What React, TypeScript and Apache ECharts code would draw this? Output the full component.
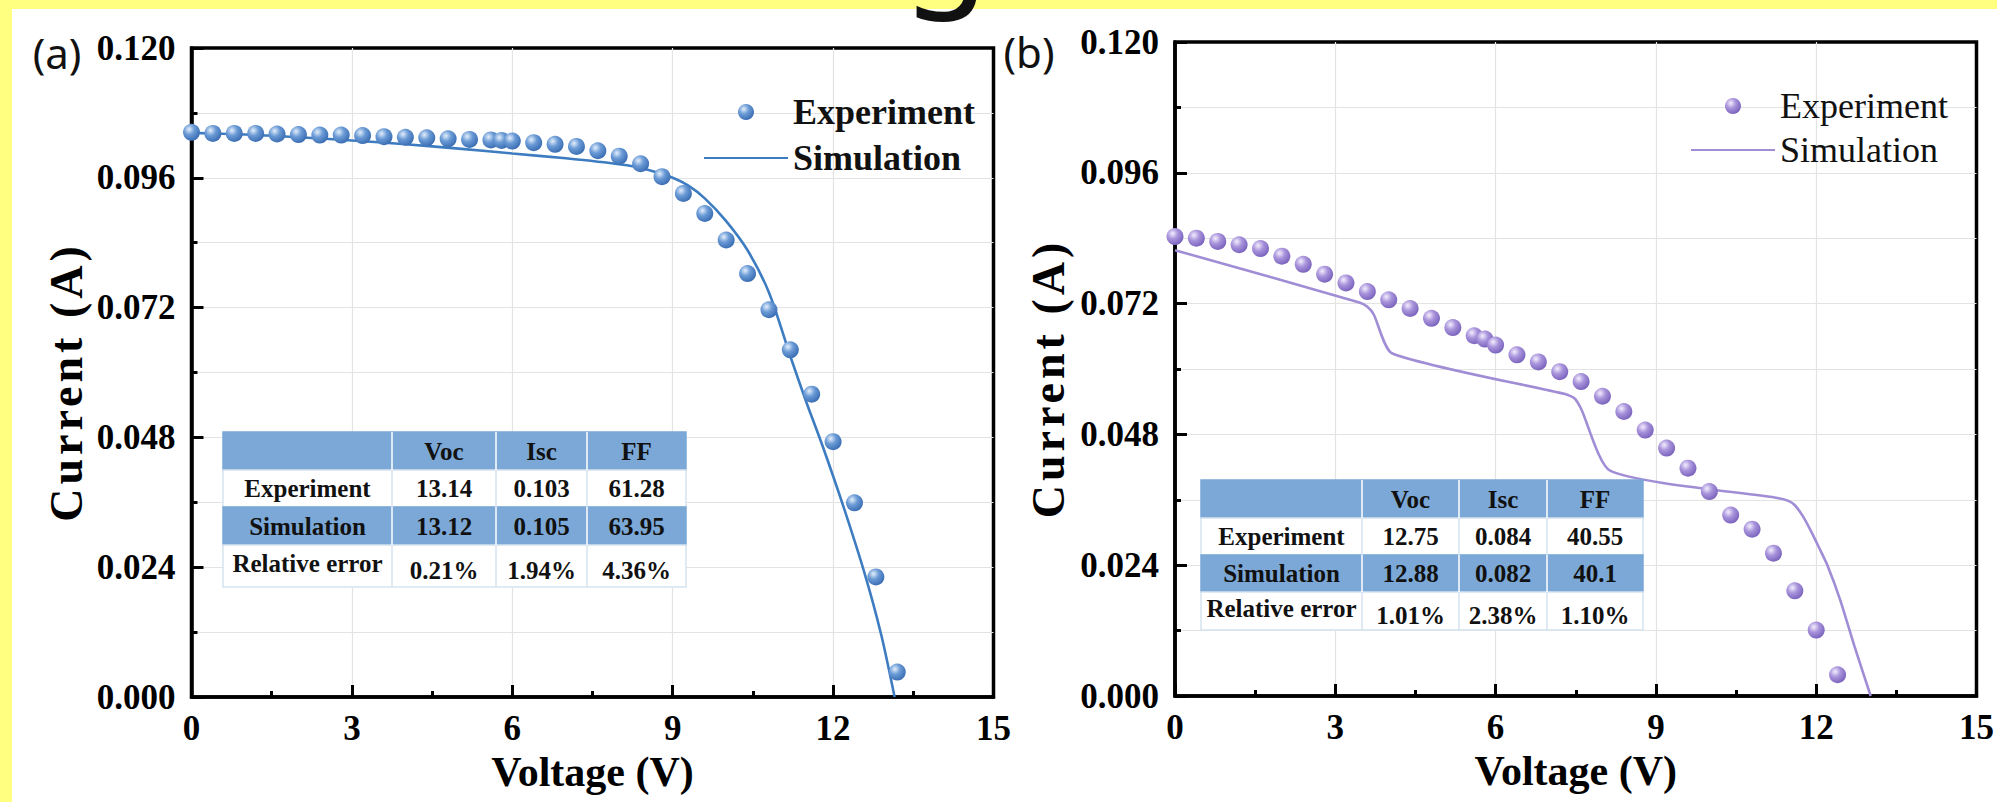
import React, { useEffect, useRef } from 'react';
import * as echarts from 'echarts';

// ---------- data ----------
const expVoltageA = [0, 0.4, 0.8, 1.2, 1.6, 2.0, 2.4, 2.8, 3.2, 3.6, 4.0, 4.4, 4.8, 5.2, 5.6, 5.8, 6.0, 6.4, 6.8, 7.2, 7.6, 8.0, 8.4, 8.8, 9.2, 9.6, 10.0, 10.4, 10.8, 11.2, 11.6, 12.0, 12.4, 12.8, 13.2];
const expCurrentA = [0.1044, 0.1042, 0.1042, 0.1042, 0.1041, 0.1040, 0.1039, 0.1039, 0.1038, 0.1036, 0.1035, 0.1034, 0.1032, 0.1031, 0.1030, 0.1029, 0.1028, 0.1025, 0.1022, 0.1018, 0.1010, 0.1000, 0.0986, 0.0962, 0.0931, 0.0894, 0.0845, 0.0783, 0.0716, 0.0642, 0.0560, 0.0472, 0.0359, 0.0222, 0.0046];
const simVoltageA = [0, 1, 2, 3, 4, 5, 6, 7, 8, 8.5, 9, 9.3, 9.6, 10, 10.4, 10.8, 11.2, 11.5, 11.8, 12.2, 12.6, 12.9, 13.15];
const simCurrentA = [0.1043, 0.1040, 0.1035, 0.1029, 0.1022, 0.1014, 0.1005, 0.0996, 0.0985, 0.0976, 0.0960, 0.0945, 0.0922, 0.0880, 0.0826, 0.0748, 0.0630, 0.0545, 0.0465, 0.0350, 0.0225, 0.0115, 0.0];

const expVoltageB = [0, 0.4, 0.8, 1.2, 1.6, 2.0, 2.4, 2.8, 3.2, 3.6, 4.0, 4.4, 4.8, 5.2, 5.6, 5.8, 6.0, 6.4, 6.8, 7.2, 7.6, 8.0, 8.4, 8.8, 9.2, 9.6, 10.0, 10.4, 10.8, 11.2, 11.6, 12.0, 12.4];
const expCurrentB = [0.0843, 0.0840, 0.0834, 0.0828, 0.0821, 0.0807, 0.0792, 0.0774, 0.0758, 0.0742, 0.0727, 0.0711, 0.0693, 0.0676, 0.0661, 0.0655, 0.0644, 0.0626, 0.0613, 0.0595, 0.0577, 0.0550, 0.0522, 0.0488, 0.0455, 0.0418, 0.0375, 0.0332, 0.0306, 0.0262, 0.0193, 0.0121, 0.0039];
const simVoltageB = [0, 3.45, 3.6, 3.72, 4.06, 7.3, 7.48, 7.6, 8.15, 11.3, 11.48, 11.6, 11.75, 11.9, 12.05, 12.2, 12.45, 12.72, 13.02];
const simCurrentB = [0.0818, 0.0722, 0.0714, 0.0700, 0.0629, 0.0554, 0.0546, 0.0527, 0.0413, 0.0363, 0.0358, 0.0350, 0.0330, 0.0303, 0.0273, 0.0242, 0.0176, 0.0090, 0.0];

const xTicks = { min: 0, max: 15, interval: 3 };
const yTicks = { min: 0, max: 0.12, interval: 0.024 };

const tableHeader = ['', 'Voc', 'Isc', 'FF'];
const tableRowLabels = ['Experiment', 'Simulation', 'Relative error'];
const tableAValues = [['13.14', '0.103', '61.28'], ['13.12', '0.105', '63.95'], ['0.21%', '1.94%', '4.36%']];
const tableBValues = [['12.75', '0.084', '40.55'], ['12.88', '0.082', '40.1'], ['1.01%', '2.38%', '1.10%']];

const legendNamesA = ['Experiment', 'Simulation'];
const legendNamesB = ['Experiment (b)', 'Simulation (b)'];

const Y_TITLE = 'Current (A)';

// ---------- styling ----------
const SERIF = '"Liberation Serif", "Times New Roman", serif';
const SANS = '"Noto Sans", "Liberation Sans", sans-serif';

function pairs(xs: number[], ys: number[]) {
  return xs.map((x, i) => [x, ys[i]]);
}

function ball(light: string, mid: string, dark: string) {
  return new echarts.graphic.RadialGradient(0.36, 0.32, 0.7, [
    { offset: 0, color: light },
    { offset: 0.45, color: mid },
    { offset: 1, color: dark },
  ]);
}

function xAxisCfg(gridIndex: number) {
  return {
    type: 'value',
    gridIndex,
    min: xTicks.min,
    max: xTicks.max,
    interval: xTicks.interval,
    name: 'Voltage (V)',
    nameLocation: 'middle',
    nameGap: 53,
    nameTextStyle: { fontFamily: SERIF, fontWeight: 'bold', fontSize: 42, color: '#000' },
    axisLine: { show: true, onZero: false, lineStyle: { color: '#000', width: 3.5 } },
    axisTick: { show: true, inside: true, length: 12, lineStyle: { color: '#000', width: 3 } },
    minorTick: { show: true, splitNumber: 2, length: 6, lineStyle: { color: '#000', width: 3 } },
    splitLine: { show: true, showMinLine: false, showMaxLine: false, lineStyle: { color: '#e3e3e3', width: 1.2 } },
    minorSplitLine: { show: false },
    axisLabel: { color: '#000', fontFamily: SERIF, fontWeight: 'bold', fontSize: 35, margin: 14 },
  };
}

function yAxisCfg(gridIndex: number, gap: number) {
  return {
    type: 'value',
    gridIndex,
    min: yTicks.min,
    max: yTicks.max,
    interval: yTicks.interval,
    name: Y_TITLE,
    nameLocation: 'middle',
    nameRotate: 90,
    nameGap: gap,
    nameTextStyle: { fontFamily: SERIF, fontWeight: 'bold', fontSize: 46, color: '#000', padding: [0, 19, 0, 0] },
    axisLine: { show: true, onZero: false, lineStyle: { color: '#000', width: 3.5 } },
    axisTick: { show: true, inside: true, length: 12, lineStyle: { color: '#000', width: 3 } },
    minorTick: { show: true, splitNumber: 2, length: 6, lineStyle: { color: '#000', width: 3 } },
    splitLine: { show: true, showMinLine: false, showMaxLine: false, lineStyle: { color: '#e3e3e3', width: 1.2 } },
    minorSplitLine: { show: true, lineStyle: { color: '#e3e3e3', width: 1.2 } },
    axisLabel: {
      color: '#000', fontFamily: SERIF, fontWeight: 'bold', fontSize: 35, margin: 16,
      formatter: (v: number) => v.toFixed(3),
    },
  };
}

function buildTable(xs: number[], ys: number[], values: string[][]) {
  const els: any[] = [];
  const blue = '#7ba8d6';
  const light = '#d5e3f0';
  const fills = [blue, '#ffffff', blue, '#ffffff'];
  for (let r = 0; r < 4; r++) {
    const isBlue = r % 2 === 0;
    els.push({
      type: 'rect', z: 10,
      shape: { x: xs[0], y: ys[r], width: xs[4] - xs[0], height: ys[r + 1] - ys[r] },
      style: { fill: fills[r], stroke: isBlue ? blue : light, lineWidth: 1.5 },
    });
    for (let c = 1; c < 4; c++) {
      els.push({
        type: 'line', z: 11,
        shape: { x1: xs[c], y1: ys[r], x2: xs[c], y2: ys[r + 1] },
        style: { stroke: isBlue ? '#ffffff' : light, lineWidth: 1.5 },
      });
    }
  }
  const rows = [tableHeader, ...tableRowLabels.map((l, i) => [l, ...values[i]])];
  rows.forEach((row, r) => {
    row.forEach((t, c) => {
      if (!t) return;
      let dy = 0;
      if (r === 3) dy = c === 0 ? -3 : 4;
      els.push({
        type: 'text', z: 12,
        x: (xs[c] + xs[c + 1]) / 2,
        y: (ys[r] + ys[r + 1]) / 2 + dy,
        style: {
          text: t, fill: '#111', fontFamily: SERIF, fontWeight: 'bold', fontSize: 25,
          align: 'center', verticalAlign: 'middle',
        },
      });
    });
  });
  return els;
}

export default function App() {
  const ref = useRef<HTMLDivElement>(null);

  useEffect(() => {
    if (!ref.current) return;
    const el = ref.current;
    const chart = echarts.init(el, undefined, { renderer: 'svg' });

    const blueBall = ball('#e3eefb', '#6b9bd6', '#3a6db3');
    const purpleBall = ball('#f3eefd', '#a994dc', '#7a63bd');

    const option: any = {
      animation: false,
      backgroundColor: 'transparent',
      grid: [
        { left: 191.5, top: 48, width: 802, height: 649, show: true, borderColor: '#000', borderWidth: 3.5, backgroundColor: 'transparent' },
        { left: 1175, top: 42, width: 809.5, height: 654, show: true, borderColor: '#000', borderWidth: 3.5, backgroundColor: 'transparent' },
      ],
      xAxis: [xAxisCfg(0), xAxisCfg(1)],
      yAxis: [yAxisCfg(0, 102), yAxisCfg(1, 104)],
      legend: [
        {
          data: [{ name: legendNamesA[0] }, { name: legendNamesA[1], itemStyle: { opacity: 0 } }],
          orient: 'vertical', left: 698, top: 89,
          itemWidth: 84, itemHeight: 16, itemGap: 10,
          textStyle: { fontFamily: SERIF, fontWeight: 'bold', fontSize: 36, color: '#111' },
        },
        {
          data: [{ name: legendNamesB[0] }, { name: legendNamesB[1], itemStyle: { opacity: 0 } }],
          orient: 'vertical', left: 1685, top: 83,
          itemWidth: 84, itemHeight: 16, itemGap: 8,
          formatter: (n: string) => n.replace(' (b)', ''),
          textStyle: { fontFamily: SERIF, fontWeight: 'normal', fontSize: 36, color: '#111' },
        },
      ],
      series: [
        {
          name: 'Simulation', type: 'line', xAxisIndex: 0, yAxisIndex: 0,
          data: pairs(simVoltageA, simCurrentA), symbol: 'none', smooth: 0.3,
          lineStyle: { color: '#3d7cc0', width: 2.6 }, itemStyle: { color: '#3d7cc0' }, z: 3,
        },
        {
          name: 'Experiment', type: 'scatter', xAxisIndex: 0, yAxisIndex: 0,
          data: pairs(expVoltageA, expCurrentA), symbolSize: 17,
          itemStyle: { color: blueBall, opacity: 1 }, z: 4,
        },
        {
          name: 'Simulation (b)', type: 'line', xAxisIndex: 1, yAxisIndex: 1,
          data: pairs(simVoltageB, simCurrentB), symbol: 'none', smooth: 0.2,
          lineStyle: { color: '#a08dd5', width: 2.6 }, itemStyle: { color: '#a08dd5' }, z: 3,
        },
        {
          name: 'Experiment (b)', type: 'scatter', xAxisIndex: 1, yAxisIndex: 1,
          data: pairs(expVoltageB, expCurrentB), symbolSize: 17,
          itemStyle: { color: purpleBall, opacity: 1 }, z: 4,
        },
      ],
      graphic: {
        elements: [
          {
            type: 'text', x: 57, y: 52, z: 20,
            style: { text: '(a)', fill: '#111', fontFamily: SANS, fontSize: 42, align: 'center', verticalAlign: 'middle' },
          },
          {
            type: 'text', x: 1029, y: 51, z: 20,
            style: { text: '(b)', fill: '#111', fontFamily: SANS, fontSize: 42, align: 'center', verticalAlign: 'middle' },
          },
          {
            type: 'text', x: 946, y: -67, z: 20,
            style: { text: 'g', fill: '#111', fontFamily: SANS, fontSize: 140, align: 'center', verticalAlign: 'middle' },
          },
          ...buildTable([223, 392, 496, 587, 686], [432, 470, 507, 545, 587], tableAValues),
          ...buildTable([1201, 1362, 1459, 1547, 1643], [480, 518, 555, 592, 630], tableBValues),
        ],
      },
    };

    // the original's y-axis title is letter-spaced
    const spaceTitles = () => {
      el.querySelectorAll('text').forEach((t) => {
        if (t.textContent === Y_TITLE) t.setAttribute('letter-spacing', '4');
      });
    };
    chart.on('finished', spaceTitles);
    chart.setOption(option);
    spaceTitles();
    return () => chart.dispose();
  }, []);

  return (
    <div style={{ position: 'fixed', left: 0, top: 0, width: 1997, height: 802, background: '#ffff80', overflow: 'hidden' }}>
      <div style={{ position: 'absolute', left: 12, top: 9, width: 1985, height: 793, background: '#ffffff' }} />
      <div ref={ref} style={{ position: 'absolute', left: 0, top: 0, width: 1997, height: 802 }} />
    </div>
  );
}
